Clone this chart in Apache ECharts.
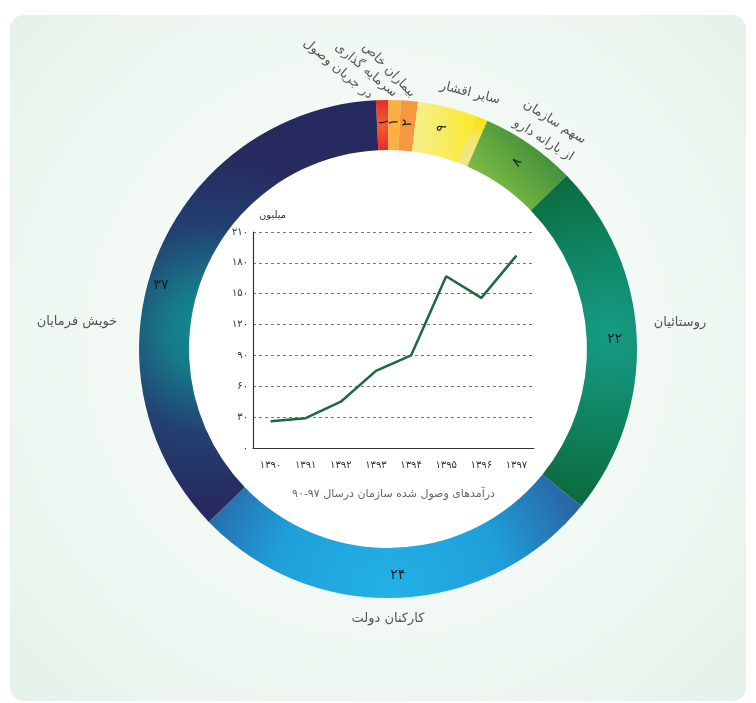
<!DOCTYPE html>
<html>
<head>
<meta charset="utf-8">
<script src="https://cdn.jsdelivr.net/npm/echarts@6/dist/echarts.min.js"></script>
<style>
  html, body { margin: 0; padding: 0; background: #fff; }
  #chart { width: 756px; height: 703px; }
</style>
</head>
<body>
<div id="chart"></div>
<script>
// ring slices, clockwise from the red one at the top
const sliceNames = ['در جریان وصول', 'سرمایه گذاری', 'بیماران خاص', 'سایر اقشار', '', 'سهم سازمان\nاز یارانه دارو', 'روستائیان', 'کارکنان دولت', 'خویش فرمایان'];
// arc share (%) as drawn in the picture
const sliceShare = [0.8, 0.8, 1.1, 3.8, 0.8, 6.2, 23.1, 26.9, 36.4];
// numbers printed on the ring
const sliceLabels = ['۱', '۱', '۲', '۹', '', '۸', '۲۲', '۲۴', '۳۷'];

// inner line chart
const years = ['۱۳۹۰', '۱۳۹۱', '۱۳۹۲', '۱۳۹۳', '۱۳۹۴', '۱۳۹۵', '۱۳۹۶', '۱۳۹۷'];
const revenue = [26, 29, 45, 75, 90, 167, 146, 187];

const FONT = 'DejaVu Sans';
const CX = 388, CY = 349, R_IN = 199, R_OUT = 249;

const toFa = s => String(s).replace(/\d/g, d => '۰۱۲۳۴۵۶۷۸۹'[d]);

const G = echarts.graphic;
const sliceColors = [
    new G.RadialGradient(382, 125, 30, [{ offset: 0, color: '#f0612c' }, { offset: 1, color: '#e8202a' }], true),
    '#fbb040',
    '#f6983f',
    new G.LinearGradient(418, 0, 478, 0, [{ offset: 0, color: '#f5ef86' }, { offset: 0.5, color: '#f8ec5a' }, { offset: 1, color: '#fde81e' }], true),
    new G.RadialGradient(CX, CY, R_OUT, [{ offset: 0.8, color: '#f0e48c' }, { offset: 0.9, color: '#f3e66e' }, { offset: 1, color: '#fbe30c' }], true),
    new G.LinearGradient(485, 200, 560, 130, [{ offset: 0, color: '#86c343' }, { offset: 1, color: '#2f7f3a' }], true),
    new G.RadialGradient(610, 335, 175, [{ offset: 0, color: '#169c86' }, { offset: 0.5, color: '#108462' }, { offset: 1, color: '#0c683a' }], true),
    new G.RadialGradient(388, 590, 230, [{ offset: 0, color: '#22b1e7' }, { offset: 0.5, color: '#1f9fda' }, { offset: 1, color: '#2b5594' }], true),
    new G.RadialGradient(210, 330, 175, [{ offset: 0, color: '#0f918f' }, { offset: 0.25, color: '#17788a' }, { offset: 0.6, color: '#233f70' }, { offset: 1, color: '#272a5f' }], true)
];

// where the names sit around the ring: [x, y, rotate]
const namePlace = [
    [338, 69, -40], [366, 70, -40], [389, 70, -46], [470, 93, -14], null,
    [549, 131, -32], [680, 323, 0], [388, 619, 0], [77, 322, 0]
];

const chart = echarts.init(document.getElementById('chart'));

chart.setOption({
    animation: false,
    textStyle: { fontFamily: FONT },
    graphic: [{
        type: 'rect', z: -10, silent: true,
        shape: { x: 10, y: 15, width: 736, height: 686, r: 14 },
        style: {
            fill: new G.RadialGradient(0.5, 0.48, 0.72, [
                { offset: 0, color: '#f9fcfa' },
                { offset: 0.55, color: '#f2f9f4' },
                { offset: 1, color: '#e5f2e9' }
            ])
        }
    }],
    grid: { left: 253, top: 232, width: 281, height: 216 },
    xAxis: {
        type: 'category',
        data: years,
        boundaryGap: true,
        name: 'درآمدهای وصول شده سازمان درسال ۹۷-۹۰',
        nameLocation: 'middle',
        nameGap: 41,
        nameTextStyle: { color: '#666', fontSize: 11, fontFamily: FONT },
        axisLine: { lineStyle: { color: '#333', width: 1.2 } },
        axisTick: { inside: true, length: 4, lineStyle: { color: '#333' } },
        axisLabel: { color: '#333', fontSize: 10, margin: 12 }
    },
    yAxis: {
        type: 'value',
        min: 0, max: 210, interval: 30,
        name: 'میلیون',
        nameLocation: 'end',
        nameGap: 12,
        nameTextStyle: { color: '#333', fontSize: 10, align: 'left', padding: [0, 0, 0, 6] },
        axisLine: { show: true, lineStyle: { color: '#333', width: 1.2 } },
        axisTick: { show: false },
        axisLabel: { color: '#333', fontSize: 10, margin: 5, formatter: v => toFa(v) },
        splitLine: { lineStyle: { color: '#777', type: [3, 3], width: 1 } }
    },
    series: [
        {
            // white disc inside the ring
            type: 'pie', z: -5, silent: true,
            center: [CX, CY], radius: [0, R_IN],
            label: { show: false }, labelLine: { show: false },
            data: [{ value: 1, itemStyle: { color: '#fff' } }]
        },
        {
            type: 'pie', silent: true,
            center: [CX, CY], radius: [R_IN, R_OUT],
            startAngle: 92.8, clockwise: true,
            avoidLabelOverlap: false,
            data: sliceShare.map((v, i) => ({
                value: v,
                name: sliceNames[i],
                itemStyle: { color: sliceColors[i] },
                label: {
                    show: sliceLabels[i] !== '',
                    formatter: sliceLabels[i],
                    rotate: i <= 5 ? 'radial' : 0
                }
            })),
            label: { position: 'inside', color: '#1e1e1e', fontSize: 14, fontFamily: FONT },
            labelLine: { show: false },
            labelLayout: p => (p.dataIndex === 8 ? { dx: -16, dy: 20 } : {})
        },
        {
            // names around the ring
            type: 'pie', silent: true,
            center: [CX, CY], radius: [R_IN, R_OUT],
            startAngle: 92.8, clockwise: true,
            avoidLabelOverlap: false,
            itemStyle: { color: 'rgba(0,0,0,0)' },
            data: sliceShare.map((v, i) => ({
                value: v,
                name: sliceNames[i],
                label: { show: sliceNames[i] !== '' }
            })),
            label: { position: 'outside', color: '#555', fontSize: 13, lineHeight: 21, fontFamily: FONT },
            labelLine: { show: false },
            labelLayout: p => {
                const np = namePlace[p.dataIndex];
                if (!np) return {};
                return { x: np[0], y: np[1], rotate: np[2], align: 'center', verticalAlign: 'middle' };
            }
        },
        {
            type: 'line',
            data: revenue,
            showSymbol: false,
            lineStyle: { color: '#1b6a3b', width: 2.5 },
            itemStyle: { color: '#1b6a3b' },
            z: 5
        }
    ]
});
</script>
</body>
</html>
